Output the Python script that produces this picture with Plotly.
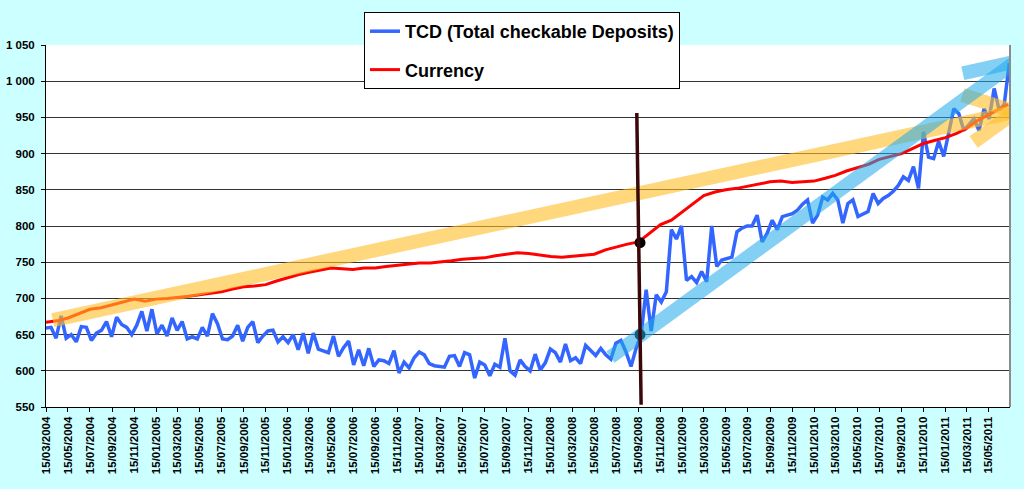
import pandas as pd
import plotly.graph_objects as go

# --- datos ---
# TCD, muestreo cada 14 días desde 15/03/2004
tcd_start = "2004-03-15"
tcd = [
    659, 660, 645, 676, 645, 650, 640, 661, 660, 642,
    652, 656, 668, 647, 674, 664, 660, 650, 663, 682,
    655, 685, 651, 663, 648, 673, 656, 668, 644, 647,
    644, 660, 648, 679, 665, 644, 643, 648, 663, 641,
    660, 668, 639, 648, 655, 656, 640, 647, 639, 650,
    629, 652, 624, 652, 630, 628, 625, 648, 620, 632,
    641, 608, 629, 607, 631, 606, 615, 614, 610, 628,
    597, 612, 604, 618, 626, 622, 610, 607, 606, 605,
    620, 621, 606, 625, 622, 590, 612, 608, 593, 609,
    605, 645, 600, 594, 615, 606, 600, 623, 601, 611,
    630, 625, 612, 637, 614, 618, 610, 635, 628, 621,
    631, 622, 616, 638, 642, 626, 606, 631, 650, 712,
    655, 705, 695, 709, 795, 782, 800, 725, 730, 722,
    737, 723, 800, 744, 753, 755, 757, 792, 797, 800,
    800, 815, 778, 790, 808, 795, 813, 815, 817, 822,
    830, 836, 804, 815, 840, 836, 845, 836, 804, 831,
    836, 813, 817, 820, 845, 831, 838, 842, 848, 856,
    868, 863, 882, 852, 930, 895, 893, 917, 896, 930,
    962, 955, 932, 940, 948, 932, 962, 948, 990, 960,
    968, 1025,
]

# Currency, un valor por mes (día 15) de 03/2004 a 06/2011 + último dato
currency = [
    667, 669, 673, 679, 685, 687, 691, 694, 699, 696,
    699, 700, 701, 703, 705, 707, 709, 713, 716, 717, 719, 724,
    729, 733, 736, 739, 742, 741, 740, 742, 742, 744, 746, 748,
    749, 749, 750, 752, 754, 755, 756, 759, 761, 763, 762, 760,
    758, 757, 758, 759, 761, 767, 771, 775, 778, 790, 802, 808,
    820, 832, 842, 847, 850, 852, 855, 858, 861, 862, 860, 861,
    862, 866, 870, 876, 880, 885, 892, 896, 900, 907, 914, 918,
    922, 928, 935, 946, 954, 962,
]
currency_last = ("2011-07-08", 968)

# marcas dibujadas encima (fecha, valor)
lehman_line = [("2008-09-10", 956), ("2008-09-22", 553)]
lehman_dots_date = "2008-09-19"
lehman_dots = [777, 650]
arrow_yellow = {"start": ("2004-04-03", 670), "tip": ("2011-07-29", 958),
                "arms": [("2011-03-03", 981), ("2011-04-03", 916)]}
arrow_blue = {"start": ("2008-06-29", 619), "tip": ("2011-07-29", 1027),
              "arms": [("2011-03-04", 1011)]}

tcd_dates = pd.date_range(tcd_start, periods=len(tcd), freq="14D")
cur_dates = list(pd.date_range("2004-03-01", periods=len(currency), freq="MS") + pd.Timedelta(days=14))
cur_dates.append(pd.Timestamp(currency_last[0]))
cur_values = currency + [currency_last[1]]

FONT = "Arial, Liberation Sans, sans-serif"

fig = go.Figure()
fig.add_trace(go.Scatter(
    x=tcd_dates, y=tcd, name="TCD (Total checkable Deposits)", mode="lines",
    line=dict(color="#3366FF", width=3.5), legendgroup="a"))
fig.add_trace(go.Scatter(
    x=cur_dates, y=cur_values, name="Currency", mode="lines",
    line=dict(color="#FF0000", width=3), legendgroup="b"))
fig.add_trace(go.Scatter(
    x=[lehman_dots_date] * len(lehman_dots), y=lehman_dots, mode="markers",
    marker=dict(color="black", size=11), showlegend=False))

shapes = []


def arrow_shapes(arrow, color):
    out = [dict(type="line", xref="x", yref="y", layer="above",
                x0=arrow["start"][0], y0=arrow["start"][1],
                x1=arrow["tip"][0], y1=arrow["tip"][1],
                line=dict(color=color, width=14))]
    for ax, ay in arrow["arms"]:
        out.append(dict(type="line", xref="x", yref="y", layer="above",
                        x0=ax, y0=ay, x1=arrow["tip"][0], y1=arrow["tip"][1],
                        line=dict(color=color, width=14)))
    return out


shapes += arrow_shapes(arrow_yellow, "rgba(255,190,40,0.6)")
shapes += arrow_shapes(arrow_blue, "rgba(30,170,235,0.55)")
shapes.append(dict(type="line", xref="x", yref="y", layer="above",
                   x0=lehman_line[0][0], y0=lehman_line[0][1],
                   x1=lehman_line[1][0], y1=lehman_line[1][1],
                   line=dict(color="#3A0808", width=3.5)))
# borde derecho gris del área de trazado
shapes.append(dict(type="line", xref="paper", yref="paper", x0=1, x1=1, y0=0, y1=1,
                   line=dict(color="#8C8C8C", width=2)))

fig.update_layout(
    width=1024, height=489,
    margin=dict(l=46, r=14, t=45, b=82, autoexpand=False),
    paper_bgcolor="#CCFFFF",
    plot_bgcolor="white",
    separators=". ",
    shapes=shapes,
    showlegend=True,
    legend=dict(
        xref="container", yref="container",
        x=364 / 1024, y=1 - 12 / 489, xanchor="left", yanchor="top",
        bgcolor="white", bordercolor="black", borderwidth=1,
        font=dict(family=FONT, size=18, color="black", weight="bold"),
        traceorder="grouped", tracegroupgap=12,
    ),
    hovermode="closest",
)

fig.update_xaxes(
    type="date",
    range=["2004-03-15", "2011-07-13"],
    tick0="2004-03-15", dtick="M2", tickformat="%d/%m/%Y",
    tickangle=-90, automargin=False,
    ticks="outside", ticklen=4, tickcolor="black",
    showline=True, linecolor="black", linewidth=1,
    showgrid=False, zeroline=False,
    tickfont=dict(family=FONT, size=11.5, color="black", weight="bold"),
)
fig.update_yaxes(
    range=[550, 1050], dtick=50, tick0=550,
    separatethousands=True, automargin=False,
    ticks="outside", ticklen=4, tickcolor="black",
    showline=True, linecolor="black", linewidth=1,
    showgrid=True, gridcolor="#333333", gridwidth=1,
    zeroline=False,
    ticklabelstandoff=4,
    tickfont=dict(family=FONT, size=11.5, color="black", weight="bold"),
)

# quitar el margen por defecto del <body> para que la figura ocupe toda la ventana
fig.write_html("out.html", config={"displayModeBar": False},
               post_script="document.body.style.margin='0';"
                           "document.body.style.background='#CCFFFF';")
